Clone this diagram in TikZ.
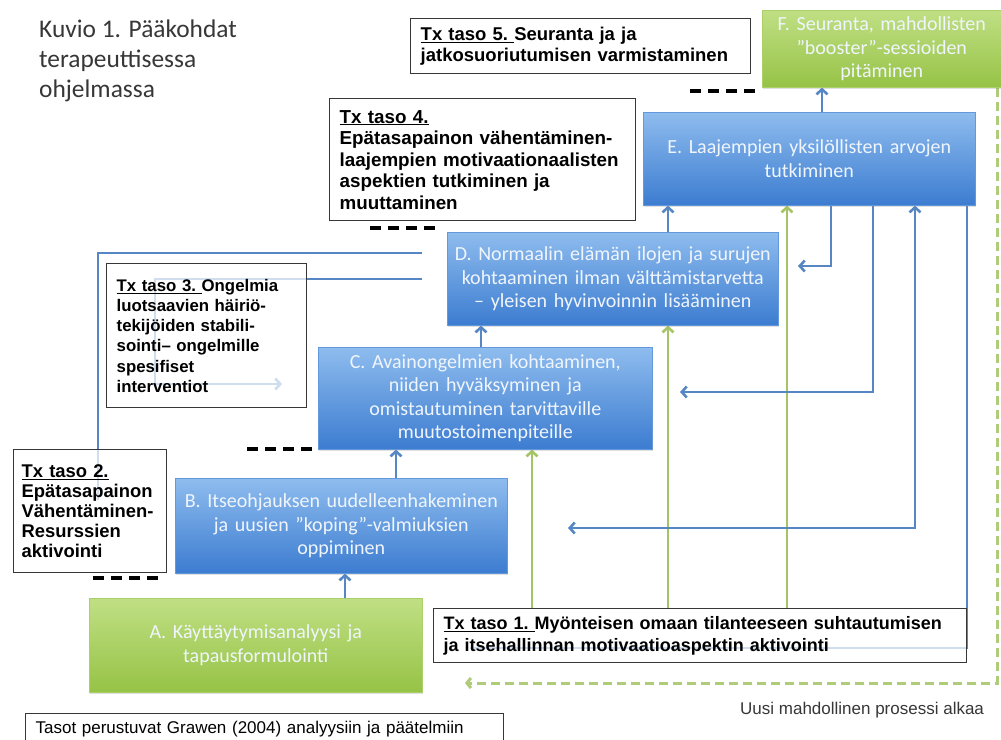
\documentclass[tikz,border=0pt]{standalone}
\usepackage{fontspec}
\setmainfont{Liberation Sans}
\newfontfamily\carlito{Carlito}
\usetikzlibrary{arrows.meta,shadows}
\pgfdeclarelayer{back}
\pgfdeclarelayer{wires}
\pgfsetlayers{back,wires,main}

\definecolor{bluetop}{RGB}{142,188,238}
\definecolor{bluebot}{RGB}{60,124,208}
\definecolor{blueedge}{RGB}{100,152,220}
\definecolor{greentop}{RGB}{192,223,132}
\definecolor{greenbot}{RGB}{150,195,70}
\definecolor{greenedge}{RGB}{172,208,104}
\definecolor{wireblue}{RGB}{86,134,196}
\definecolor{wiregreen}{RGB}{164,196,102}
\definecolor{dashgreen}{RGB}{176,204,122}
\definecolor{txedge}{RGB}{55,55,55}
\definecolor{boxtext}{RGB}{240,245,252}
\definecolor{titlegray}{RGB}{55,55,55}

\tikzset{
  procbox/.style={rectangle, anchor=north west, inner sep=0pt, align=center,
    font=\carlito\fontsize{20}{23.5}\selectfont, text=boxtext,
    drop shadow={opacity=0.25, shadow xshift=0.5pt, shadow yshift=-2pt}},
  bluebox/.style={procbox, top color=bluetop, bottom color=bluebot, draw=blueedge, line width=0.6pt},
  greenbox/.style={procbox, top color=greentop, bottom color=greenbot, draw=greenedge, line width=0.6pt},
  txbox/.style={rectangle, anchor=north west, draw=txedge, line width=1.4pt, fill=white,
    fill opacity=0.72, text opacity=1, align=left, inner xsep=10pt, inner ysep=0pt},
  wire/.style={draw=wireblue, line width=2.6pt},
  warrow/.style={wire, -{Straight Barb[length=5pt,width=11pt]}},
  wboth/.style={wire, {Straight Barb[length=5pt,width=11pt]}-{Straight Barb[length=5pt,width=11pt]}},
  gwire/.style={draw=wiregreen, line width=2.6pt, -{Straight Barb[length=5pt,width=11pt]}},
  lvl/.style={draw=black, line width=3.4pt, dash pattern=on 11pt off 7pt},
  gdash/.style={draw=dashgreen, line width=3pt, dash pattern=on 9pt off 5pt, -{Straight Barb[length=4pt,width=10pt]}},
  plain/.style={anchor=base west, inner sep=0pt, font=\fontsize{17}{20}\selectfont, text=titlegray},
}

\begin{document}
\begin{tikzpicture}[x=1pt,y=-1pt]
\useasboundingbox (0,0) rectangle (1001,739);
\begin{pgfonlayer}{back}
  \fill[white] (0,0) rectangle (1001,739);
\end{pgfonlayer}

% title
\node[anchor=north west, inner sep=0pt, align=left, text=titlegray,
  font=\carlito\fontsize{25.4}{30}\selectfont] (title) at (39,20)
  {Kuvio 1. Pääkohdat\\terapeuttisessa\\ohjelmassa};

% process boxes
\node[greenbox, minimum width=239pt, minimum height=77pt, text width=232pt] (F) at (762,10)
  {F. Seuranta, mahdollisten\\”booster”-sessioiden\\pitäminen};
\node[bluebox, minimum width=332pt, minimum height=93pt, text width=322pt] (E) at (643,112)
  {E. Laajempien yksilöllisten arvojen\\tutkiminen};
\node[bluebox, minimum width=331pt, minimum height=93pt, text width=322pt] (D) at (447,232)
  {D. Normaalin elämän ilojen ja surujen\\kohtaaminen ilman välttämistarvetta\\– yleisen hyvinvoinnin lisääminen};
\node[bluebox, minimum width=334pt, minimum height=102pt, text width=324pt] (C) at (318,347)
  {C. Avainongelmien kohtaaminen,\\niiden hyväksyminen ja\\omistautuminen tarvittaville\\muutostoimenpiteille};
\node[bluebox, minimum width=332pt, minimum height=95pt, text width=324pt] (B) at (175,478)
  {B. Itseohjauksen uudelleenhakeminen\\ja uusien ”koping”-valmiuksien\\oppiminen};
\node[greenbox, minimum width=333pt, minimum height=94pt, text width=324pt] (A) at (89,598)
  {A. Käyttäytymisanalyysi ja\\tapausformulointi};

% therapy level boxes
\node[txbox, minimum width=340pt, minimum height=55pt, text width=320pt,
  font=\bfseries\fontsize{18.5}{21}\selectfont] (T5) at (410,18)
  {\underline{Tx taso 5.\ }Seuranta ja ja\\jatkosuoriutumisen varmistaminen};
\node[txbox, minimum width=306pt, minimum height=122pt, text width=286pt,
  font=\bfseries\fontsize{18.8}{21.5}\selectfont] (T4) at (329,98)
  {\underline{Tx taso 4.}\\Epätasapainon vähentäminen-\\laajempien motivaationaalisten\\aspektien tutkiminen ja\\muuttaminen};
\node[txbox, minimum width=200pt, minimum height=144pt, text width=180pt,
  font=\bfseries\fontsize{16.8}{20.2}\selectfont] (T3) at (106,263)
  {\underline{Tx taso 3.\ }Ongelmia\\luotsaavien häiriö-\\tekijöiden stabili-\\sointi– ongelmille\\spesifiset\\interventiot};
\node[txbox, minimum width=153pt, minimum height=123pt, text width=137pt, inner xsep=8pt,
  font=\bfseries\fontsize{18.4}{19.8}\selectfont] (T2) at (13,449)
  {\underline{Tx taso 2.}\\Epätasapainon\\Vähentäminen-\\Resurssien\\aktivointi};
\node[txbox, minimum width=533pt, minimum height=54pt, text width=513pt,
  font=\bfseries\fontsize{18}{22}\selectfont] (T1) at (433,608)
  {\underline{Tx taso 1.\ }Myönteisen omaan tilanteeseen suhtautumisen\\ja itsehallinnan motivaatioaspektin aktivointi};

% footnotes
\node[txbox, line width=1.2pt, fill opacity=1, minimum width=478pt, minimum height=30pt, text width=458pt,
  font=\fontsize{17}{20}\selectfont] (foot) at (25,713)
  {Tasot perustuvat Grawen (2004) analyysiin ja päätelmiin};
\node[plain] (uusi) at (740,714) {Uusi mahdollinen prosessi alkaa};

% level dashes
\draw[lvl] (690,91) -- (758,91);
\draw[lvl] (370,228) -- (440,228);
\draw[lvl] (247,449) -- (317,449);
\draw[lvl] (93,578) -- (163,578);

\begin{pgfonlayer}{wires}
  \coordinate (xab) at (345,0);
  \coordinate (xbc) at (396,0);
  \coordinate (xcd) at (481,0);
  \coordinate (xde) at (668,0);
  \coordinate (xef) at (822,0);
  \coordinate (g1) at (532,0);
  \coordinate (g2) at (668,0);
  \coordinate (g3) at (787,0);
  \coordinate (k1) at (831,0);
  \coordinate (k1tip) at (798,266);
  \coordinate (k2) at (873,0);
  \coordinate (k2tip) at (680,392);
  \coordinate (k3) at (915,0);
  \coordinate (k3tip) at (568,528);
  \coordinate (k4) at (967,0);
  \coordinate (k4end) at (470,648);
  \coordinate (l1a) at (422,253);
  \coordinate (l1b) at (98,500);
  \coordinate (l2a) at (422,279);
  \coordinate (l2b) at (155,279);
  \coordinate (l2tip) at (282,384);
  \coordinate (gd) at (997,0);
  \coordinate (gdtip) at (465,683);

  % green links from level 1
  \draw[gwire] (T1.north -| g1) -- (C.south -| g1);
  \draw[gwire] (T1.north -| g2) -- (D.south -| g2);
  \draw[gwire] (T1.north -| g3) -- (E.south -| g3);
  \draw[gdash] (F.south -| gd) |- (gdtip);

  % main chain
  \draw[warrow] (A.north -| xab) -- (B.south -| xab);
  \draw[warrow] (B.north -| xbc) -- (C.south -| xbc);
  \draw[warrow] (C.north -| xcd) -- (D.south -| xcd);
  \draw[warrow] (D.north -| xde) -- (E.south -| xde);
  \draw[warrow] (E.north -| xef) -- (F.south -| xef);

  % feedback from E
  \draw[warrow] (E.south -| k1) |- (k1tip);
  \draw[warrow] (E.south -| k2) |- (k2tip);
  \draw[wboth] (k3tip) -| (E.south -| k3);
  \draw[wire] (E.south -| k4) |- (k4end);

  % lines on the left
  \draw[wire] (l1a) -| (l1b);
  \draw[warrow] (l2a) -- (l2b) |- (l2tip);
\end{pgfonlayer}
\end{tikzpicture}
\end{document}
